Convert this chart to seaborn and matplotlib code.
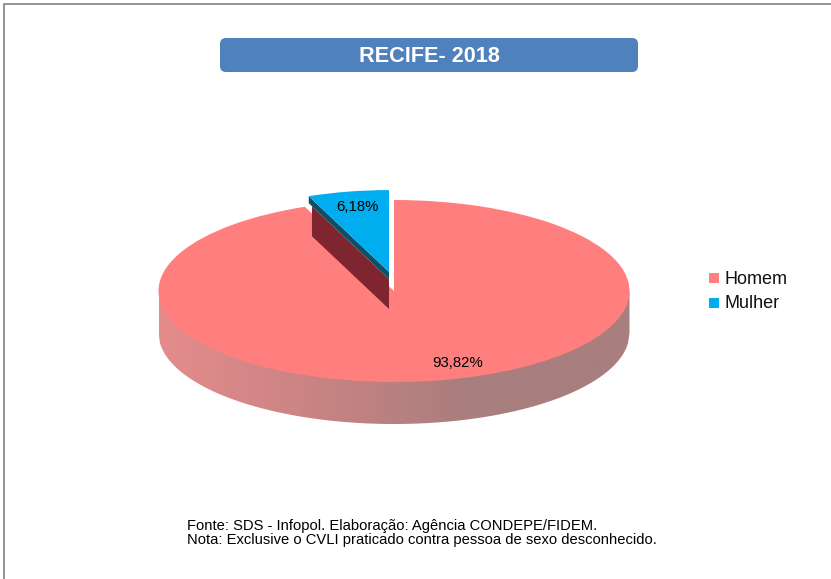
import numpy as np
import seaborn as sns
import matplotlib.pyplot as plt
from matplotlib.patches import FancyBboxPatch, Polygon

# data
labels = ["Homem", "Mulher"]
shares = [93.82, 6.18]
share_labels = ["93,82%", "6,18%"]
title = "RECIFE- 2018"
notes = ["Fonte: SDS - Infopol. Elaboração: Agência CONDEPE/FIDEM.",
         "Nota: Exclusive o CVLI praticado contra pessoa de sexo desconhecido."]
colors = ["#FF7F7F", "#00ADEF"]

sns.set_theme(style="white")
plt.rcParams["font.family"] = ["Liberation Sans", "DejaVu Sans"]

W, H = 831, 579
fig = plt.figure(figsize=(W / 100, H / 100), dpi=100)

# pie axes, stretched so the circle turns into a flat ellipse
cx, cy, rx, ry = 394, 291, 235.5, 91
ax = fig.add_axes([(cx - 1.2 * rx) / W, (H - cy - 1.6 * ry) / H, 2.4 * rx / W, 3.0 * ry / H])
depth = 42 / ry

wedges, _ = ax.pie(shares, colors=colors, startangle=90, counterclock=False,
                   radius=1, wedgeprops={"zorder": 5, "linewidth": 0})
ax.set_aspect("auto")
ax.axis("off")

# pulled slice sits a bit up and is a bit smaller than the disc
pull = (-5 / rx, 19 / ry)
small = 0.9
wedges[1].set_center(pull)
wedges[1].set_radius(small)
wedges[1].set_zorder(8)

# side of the disc, gradient clipped to the rim
x = np.linspace(-1, 1, 300)
rim = -np.sqrt(1 - x ** 2)
band = Polygon(np.r_[np.c_[x, rim + 0.02], np.c_[x[::-1], rim[::-1] - depth]],
               closed=True, transform=ax.transData, fc="none", ec="none")
ax.add_patch(band)
grad = sns.blend_palette(["#E58C8C", "#C98383", "#A87E7E", "#A87E7E"], as_cmap=True)
im = ax.imshow(np.linspace(0, 1, 256).reshape(1, -1), cmap=grad, aspect="auto",
               extent=(-1, 1, -1 - depth, 0), zorder=2)
im.set_clip_path(band)
ax.set_xlim(-1.2, 1.2)
ax.set_ylim(-1.6, 1.4)

# cut faces under the pulled slice
ang = np.deg2rad(shares[1] * 3.6)
ex, ey = -np.sin(ang) * small, np.cos(ang) * small
px, py = pull
thick = 7 / ry
cut = 30 / ry
ax.add_patch(Polygon([(px + ex, py + ey), (px, py), (px, py - thick), (px + ex, py + ey - thick)],
                     closed=True, fc="#0F4F66", ec="none", zorder=7))
ax.add_patch(Polygon([(px + 0.96 * ex, py + 0.96 * ey - thick), (px, py - thick),
                      (px, py - thick - cut), (px + 0.96 * ex, py + 0.96 * ey - thick - cut)],
                     closed=True, fc="#7E2530", ec="none", zorder=6))

# overlay in pixel coordinates for box, frame and texts
ov = fig.add_axes([0, 0, 1, 1], facecolor="none")
ov.set_xlim(0, W)
ov.set_ylim(H, 0)
ov.axis("off")
ov.plot([4, 4, W], [H, 4, 4], color="#808080", lw=1.2)
ov.add_patch(FancyBboxPatch((225, 43), 408, 24, boxstyle="round,pad=5,rounding_size=6",
                            fc="#4F81BD", ec="none"))
ov.text(429, 56, title, color="white", fontsize=15.6, fontweight="bold", ha="center", va="center")
ov.text(458, 363, share_labels[0], fontsize=10.8, ha="center", va="center", color="black")
ov.text(357, 207, share_labels[1], fontsize=10.8, ha="center", va="center", color="black", zorder=10)
ov.text(187, 533, "\n".join(notes), fontsize=10.6, linespacing=0.98,
        ha="left", va="center", color="black")
for lab, col, y in zip(labels, colors, [278, 303]):
    ov.scatter([714], [y], marker="s", s=42, color=col, linewidths=0)
    ov.text(724, y + 1, lab, fontsize=13, ha="left", va="center", color="#111111")

fig.savefig("out.png", dpi=100, facecolor="white")
